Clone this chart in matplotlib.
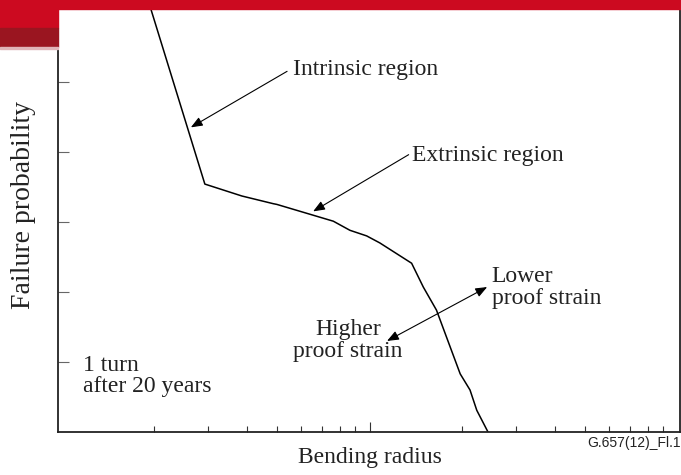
import matplotlib.pyplot as plt
from matplotlib.patches import Rectangle

# curve: bending radius (log axis) vs failure probability (arbitrary units)
radius = [1.95, 2.92, 3.85, 4.87, 5.00, 7.63, 8.64, 9.79, 10.8, 13.7, 14.95, 16.5, 19.7, 21.2, 22.3, 24.25]
failure = [6.04, 3.54, 3.37, 3.26, 3.25, 3.01, 2.88, 2.80, 2.70, 2.41, 2.07, 1.74, 0.83, 0.60, 0.31, 0.0]

ytick_pos = [1, 2, 3, 4, 5]
major_x = [10]
minor_x = [2, 3, 4, 5, 6, 7, 8, 9, 20, 30, 40, 50, 60, 70, 80, 90]

serif = ['Liberation Serif', 'DejaVu Serif']
plt.rcParams['font.family'] = serif

fig = plt.figure(figsize=(6.81, 4.75), dpi=100)
W, H = 681, 475

# red header strip
red = '#cc0a20'
dark = '#9a1520'
fig.patches.append(Rectangle((0, 1 - 9 / H), 1, 9 / H, transform=fig.transFigure, color=red, zorder=0))
fig.patches.append(Rectangle((0, 1 - 28 / H), 58 / W, 28 / H, transform=fig.transFigure, color=red, zorder=0))
fig.patches.append(Rectangle((0, 1 - 47 / H), 58 / W, 19 / H, transform=fig.transFigure, color=dark, zorder=0))
fig.patches.append(Rectangle((0, 1 - 48.5 / H), 58 / W, 1.5 / H, transform=fig.transFigure, color='#e0b4b8', zorder=0))

ax = fig.add_axes([58 / W, (H - 432) / H, 622 / W, 423 / H])
ax.plot(radius, failure, color='black', lw=1.1)
ax.set_xscale('log')
ax.set_xlim(0.974, 101.9)
ax.set_ylim(0, 6.04)

ax.set_xticks(major_x)
ax.set_xticks(minor_x, minor=True)
ax.set_yticks(ytick_pos)
ax.set_yticks([], minor=True)
ax.set_xticklabels([])
ax.set_xticklabels([], minor=True)
ax.set_yticklabels([])
ax.tick_params(axis='x', which='major', direction='in', length=7.5, width=0.8, color='#333333')
ax.tick_params(axis='x', which='minor', direction='in', length=4.5, width=0.8, color='#333333')
ax.tick_params(axis='y', which='major', direction='in', length=8, width=0.8, color='#666666')
for s in ax.spines.values():
    s.set_linewidth(1.3)
    s.set_color('#222222')

arrow = dict(arrowstyle='-|>,head_length=0.7,head_width=0.28', color='black', lw=0.8, shrinkA=0, shrinkB=0)
both = dict(arrowstyle='<|-|>,head_length=0.7,head_width=0.28', color='black', lw=0.8, shrinkA=0, shrinkB=0)

fs = 17
txt = '#222222'
ax.annotate('', xy=(2.63, 4.35), xytext=(5.40, 5.15), arrowprops=arrow)
ax.text(5.64, 5.17, 'Intrinsic region', fontsize=fs, color=txt, va='center', ha='left')

ax.annotate('', xy=(6.56, 3.15), xytext=(13.4, 3.96), arrowprops=arrow)
ax.text(13.74, 3.95, 'Extrinsic region', fontsize=fs, color=txt, va='center', ha='left')

ax.annotate('', xy=(24.1, 2.07), xytext=(11.4, 1.30), arrowprops=both)
ax.text(24.9, 2.06, 'Lower\nproof strain', fontsize=fs, color=txt, va='center', ha='left', linespacing=1.05)
ax.text(8.52, 1.31, 'Higher\nproof strain', fontsize=fs, color=txt, va='center', ha='center',
        multialignment='center', linespacing=1.05)

ax.text(1.17, 0.80, '1 turn\nafter 20 years', fontsize=fs, color=txt, va='center', ha='left', linespacing=1.05)

fig.text(370 / W, 1 - 458 / H, 'Bending radius', fontsize=fs, color=txt, ha='center', va='center')
fig.text(24 / W, 1 - 205 / H, 'Failure probability', fontsize=20, color=txt, rotation=90,
         ha='center', va='center')
fig.text(1.0, 1 - 443 / H, 'G.657(12)_Fl.1', fontsize=10, color=txt, ha='right', va='center',
         family=['Liberation Sans', 'DejaVu Sans'])

fig.savefig('out.png', dpi=100)
